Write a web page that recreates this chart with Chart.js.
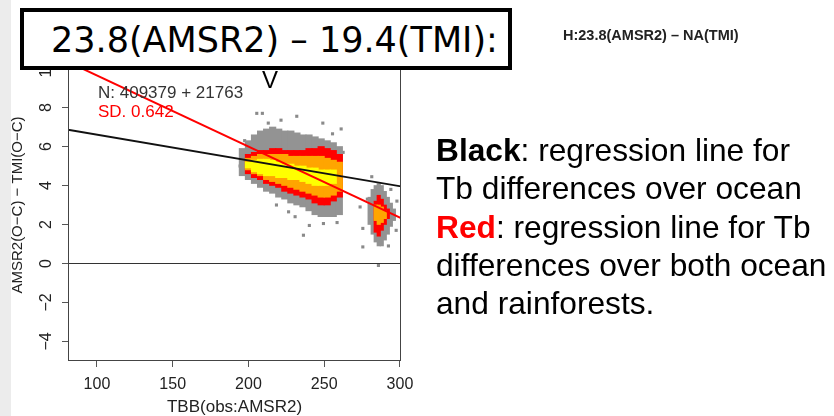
<!DOCTYPE html>
<html>
<head>
<meta charset="utf-8">
<script src="https://cdn.jsdelivr.net/npm/chart.js@4"></script>
<style>
  body { margin: 0; background: #fff; }
  #wrap { position: relative; width: 834px; height: 416px; overflow: hidden; font-family: 'Liberation Sans', Arial, sans-serif; }
  #strip { position: absolute; left: 0; top: 0; width: 11px; height: 416px; background: #ececec; }
  #c { position: absolute; left: 0; top: 0; }
  #callout {
    position: absolute; left: 20px; top: 8px; width: 492px; height: 62px;
    box-sizing: border-box; border: 4px solid #000; background: #fff;
    font-family: 'DejaVu Sans', sans-serif; font-size: 35px; line-height: 51px;
    padding: 3px 0 0 27px; white-space: nowrap; color: #000;
  }
  #tail { position: absolute; left: 262px; top: 68px; font-size: 24px; line-height: 24px; color: #000; }
  #hlabel { position: absolute; left: 563px; top: 28px; font-size: 14.5px; line-height: 14px; font-weight: bold; color: #222; white-space: nowrap; }
  #notes { position: absolute; left: 436px; top: 131px; font-size: 31.7px; line-height: 38.3px; color: #000; white-space: nowrap; }
  #notes b.red { color: #ff0000; }
</style>
</head>
<body>
<div id="wrap">
  <div id="strip"></div>
  <canvas id="c" width="834" height="416"></canvas>
  <div id="tail">V</div>
  <div id="callout">23.8(AMSR2) – 19.4(TMI):</div>
  <div id="hlabel">H:23.8(AMSR2) – NA(TMI)</div>
  <div id="notes">
    <b>Black</b>: regression line for<br>
    Tb differences over ocean<br>
    <b class="red">Red</b>: regression line for Tb<br>
    differences over both ocean<br>
    and rainforests.
  </div>
</div>
<script>
// axis ticks
const xTicks = [100, 150, 200, 250, 300];
const yTicks = [-4, -2, 0, 2, 4, 6, 8, 10];

// ocean cluster, density bands per TBB column (4 K wide)
const oceanTbb  = [196, 200, 204, 208, 212, 216, 220, 224, 228, 232, 236, 240, 244, 248, 252, 256, 260];
const greyLo    = [4.5, 4.3, 4.1, 3.9, 3.7, 3.6, 3.4, 3.3, 3.1, 3.0, 2.9, 2.7, 2.5, 2.4, 2.4, 2.4, 2.5];
const greyHi    = [5.9, 6.3, 6.6, 6.8, 6.9, 7.0, 6.9, 6.8, 6.8, 6.7, 6.6, 6.6, 6.5, 6.4, 6.3, 6.2, 6.0];
const redLo     = [null, 4.6, 4.4, 4.3, 4.1, 4.0, 3.9, 3.7, 3.6, 3.5, 3.4, 3.3, 3.1, 3.0, 3.0, 3.2, 3.4];
const redHi     = [null, 5.6, 5.7, 5.8, 5.8, 5.9, 5.9, 5.8, 5.8, 5.8, 5.8, 5.9, 5.9, 6.0, 5.9, 5.8, 5.6];
const orangeLo  = [null, 4.8, 4.6, 4.5, 4.3, 4.2, 4.1, 4.0, 3.9, 3.8, 3.7, 3.6, 3.5, 3.4, 3.4, 3.5, 3.7];
const orangeHi  = [null, 5.4, 5.5, 5.6, 5.6, 5.6, 5.6, 5.6, 5.5, 5.5, 5.5, 5.5, 5.5, 5.5, 5.4, 5.3, 5.2];
const yellowLo  = [null, 4.9, 4.7, 4.6, 4.5, 4.5, 4.4, 4.4, 4.3, 4.3, 4.2, 4.1, 4.0, 4.0, 4.0, 4.1, null];
const yellowHi  = [null, 5.2, 5.3, 5.35, 5.35, 5.3, 5.2, 5.1, 5.1, 5.0, 5.0, 4.9, 4.9, 4.8, 4.8, 4.8, null];

// rainforest cluster (2 K wide columns)
const forestTbb      = [280, 282, 284, 286, 288, 290, 292, 294, 296];
const forestGreyLo   = [2.0, 1.5, 1.1, 0.9, 0.9, 1.2, 1.5, 1.9, 2.2];
const forestGreyHi   = [3.4, 3.8, 4.0, 4.1, 4.0, 3.7, 3.4, 3.1, 2.8];
const forestRedLo    = [null, null, 1.6, 1.4, 1.7, 2.0, 2.3, null, null];
const forestRedHi    = [null, null, 3.2, 3.5, 3.3, 3.0, 2.8, null, null];
const forestOrangeLo = [null, null, 2.2, 2.0, 2.1, 2.3, null, null, null];
const forestOrangeHi = [null, null, 3.0, 3.0, 2.9, 2.7, null, null, null];

// sparse single points around the clusters
const outTbb = [205.5, 209.2, 231.9, 213.1, 249.1, 261.2, 281.4, 273.7, 275.5, 275.5, 236.3, 240.2, 230.8, 285.8, 292.4, 294.0, 249.5,
                197.5, 194.5, 221.5, 255.5, 262.5, 258.5, 218.5, 226.5, 278.5, 297.5, 298.0];
const outDif = [7.7, 7.7, 7.55, 7.2, 7.2, 6.9, 4.45, 2.9, 1.8, 0.85, 1.45, 1.95, 2.4, -0.1, 0.9, 3.8, 2.05,
                6.3, 5.0, 7.35, 6.65, 5.7, 2.1, 3.0, 2.65, 3.3, 1.7, 3.2];

// regression lines (end points at the plot edges)
const lineTbb = [80.9, 300.7];
const oceanFit = [6.86, 3.95];
const bothFit = [10.34, 2.33];

const countLabel = 'N: 409379 + 21763';
const sdLabel = 'SD. 0.642';

function ranges(xs, lo, hi) {
  return xs.map((x, i) => ({ x, y: [lo[i], hi[i]] })).filter(d => d.y[0] !== null);
}

function cells(xs, lo, hi, color, width, order) {
  return {
    type: 'bar',
    data: ranges(xs, lo, hi),
    backgroundColor: color,
    barThickness: width,
    grouped: false,
    order,
  };
}

function fitLine(ys, color, width) {
  return {
    type: 'line',
    data: lineTbb.map((x, i) => ({ x, y: ys[i] })),
    borderColor: color,
    borderWidth: width,
    pointRadius: 0,
    order: 0,
  };
}

const plotExtras = {
  id: 'plotExtras',
  afterDraw(chart) {
    const { ctx, chartArea: a, scales: { y } } = chart;
    ctx.save();
    ctx.strokeStyle = '#444';
    ctx.lineWidth = 1;
    ctx.strokeRect(a.left + 0.5, a.top + 0.5, a.right - a.left - 1, a.bottom - a.top - 1);

    // R style y labels, rotated
    ctx.fillStyle = '#222';
    ctx.font = '16px "Liberation Sans"';
    ctx.textAlign = 'center';
    ctx.textBaseline = 'middle';
    yTicks.forEach(v => {
      ctx.save();
      ctx.translate(a.left - 21, y.getPixelForValue(v));
      ctx.rotate(-Math.PI / 2);
      ctx.fillText(v < 0 ? '\u2212' + (-v) : String(v), 0, 0);
      ctx.restore();
    });

    ctx.font = '17px "Liberation Sans"';
    ctx.textAlign = 'left';
    ctx.textBaseline = 'alphabetic';
    ctx.fillStyle = '#333';
    ctx.fillText(countLabel, 98, 98);
    ctx.fillStyle = '#ff0000';
    ctx.fillText(sdLabel, 98, 117);
    ctx.restore();
  },
};

const tickFont = { family: 'Liberation Sans', size: 16 };

new Chart(document.getElementById('c'), {
  type: 'bar',
  data: {
    datasets: [
      fitLine(oceanFit, '#111', 1.8),
      fitLine(bothFit, '#ff0000', 2),
      { type: 'line', data: lineTbb.map(x => ({ x, y: 0 })), borderColor: '#333', borderWidth: 1, pointRadius: 0, order: 0 },
      cells(oceanTbb, yellowLo, yellowHi, '#ffff00', 6.5, 1),
      cells(oceanTbb, orangeLo, orangeHi, '#ffa500', 6.5, 2),
      cells(forestTbb, forestOrangeLo, forestOrangeHi, '#ffa500', 3.5, 2),
      cells(oceanTbb, redLo, redHi, '#ff0000', 6.5, 3),
      cells(forestTbb, forestRedLo, forestRedHi, '#ff0000', 3.5, 3),
      cells(oceanTbb, greyLo, greyHi, '#939393', 6.5, 4),
      cells(forestTbb, forestGreyLo, forestGreyHi, '#939393', 3.5, 4),
      {
        type: 'scatter',
        data: outTbb.map((x, i) => ({ x, y: outDif[i] })),
        pointStyle: 'rect',
        pointRadius: 2.2,
        backgroundColor: '#8a8a8a',
        borderWidth: 0,
        order: 5,
      },
    ],
  },
  options: {
    responsive: false,
    animation: false,
    layout: { padding: { left: 0, right: 433, top: 49, bottom: 0 } },
    plugins: { legend: { display: false }, tooltip: { enabled: false } },
    scales: {
      x: {
        type: 'linear',
        min: 80.9,
        max: 300.7,
        offset: false,
        afterBuildTicks: s => { s.ticks = xTicks.map(v => ({ value: v })); },
        afterFit: s => { s.height = 55; },
        grid: { drawOnChartArea: false, drawTicks: true, tickLength: 6, color: '#555', offset: false },
        border: { display: false },
        ticks: { font: tickFont, color: '#222', padding: 8, maxRotation: 0, autoSkip: false },
        title: {
          display: true,
          text: 'TBB(obs:AMSR2)',
          font: { family: 'Liberation Sans', size: 17, lineHeight: 1 },
          color: '#222',
          padding: 0,
        },
      },
      y: {
        type: 'linear',
        min: -5,
        max: 11,
        afterBuildTicks: s => { s.ticks = yTicks.map(v => ({ value: v })); },
        afterFit: s => { s.width = 68; },
        grid: { drawOnChartArea: false, drawTicks: true, tickLength: 6, color: '#555' },
        border: { display: false },
        ticks: { display: false },
        title: {
          display: true,
          text: 'AMSR2(O\u2212C) \u2212 TMI(O\u2212C)',
          font: { family: 'Liberation Sans', size: 15 },
          color: '#222',
          padding: { top: 9, bottom: 0 },
        },
      },
    },
  },
  plugins: [plotExtras],
});
</script>
</body>
</html>
